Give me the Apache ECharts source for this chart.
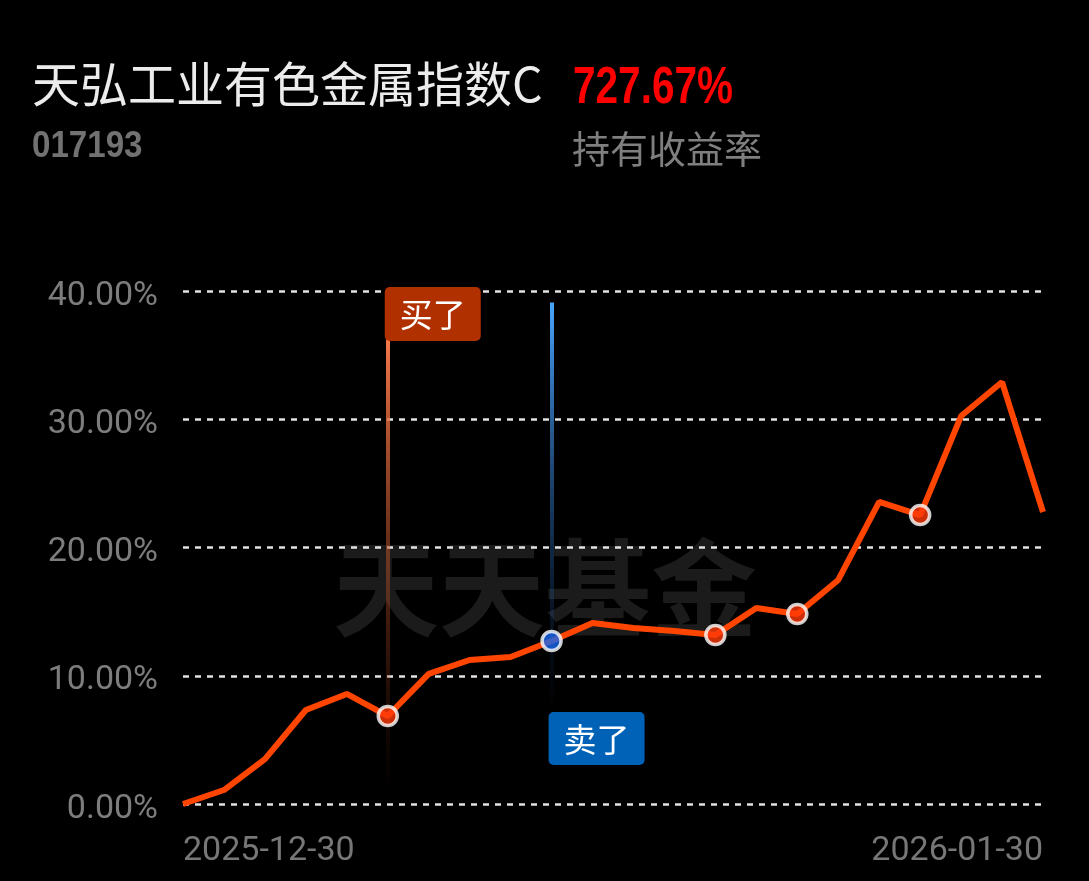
<!DOCTYPE html>
<html>
<head>
<meta charset="utf-8">
<script src="https://cdn.jsdelivr.net/npm/echarts@6/dist/echarts.min.js"></script>
<style>
  html, body { margin: 0; padding: 0; background: #000; }
  #chart { width: 1089px; height: 881px; background: #000; border-radius: 14px; overflow: hidden; }
</style>
</head>
<body>
<div id="chart"></div>
<script>
// ---- data ----
const fundName = '天弘工业有色金属指数C';
const fundCode = '017193';
const holdReturn = '727.67%';
const holdReturnLabel = '持有收益率';
const watermark = '天天基金';
const dates = ['2025-12-30','2025-12-31','2026-01-05','2026-01-06','2026-01-07','2026-01-08','2026-01-09',
  '2026-01-12','2026-01-13','2026-01-14','2026-01-15','2026-01-16','2026-01-19','2026-01-20','2026-01-21',
  '2026-01-22','2026-01-23','2026-01-26','2026-01-27','2026-01-28','2026-01-29','2026-01-30'];
const returns = [0, 1.09, 3.5, 7.33, 8.58, 6.86, 10.14, 11.23, 11.46, 12.71, 14.11, 13.72, 13.49, 13.18,
  15.28, 14.81, 17.47, 23.55, 22.53, 30.25, 32.9, 22.77];
const buyIndex = 5;
const sellIndex = 9;
const markerIndices = [13, 15, 18];
const buyText = '买了';
const sellText = '卖了';
const yTicks = [0, 10, 20, 30, 40];

// ---- chart ----
const chart = echarts.init(document.getElementById('chart'));
const last = dates.length - 1;

const dotRed = { color: '#ff3a0a', borderColor: '#fff', borderWidth: 3.5 };
const dotBlue = { color: '#1868f0', borderColor: '#fff', borderWidth: 3.5 };

const scatterData = [
  { value: [dates[buyIndex], returns[buyIndex]], itemStyle: dotRed },
  { value: [dates[sellIndex], returns[sellIndex]], itemStyle: dotBlue }
].concat(markerIndices.map(i => ({ value: [dates[i], returns[i]], itemStyle: dotRed })));

const grad = (c0, c1) => new echarts.graphic.LinearGradient(0, 0, 0, 1, [
  { offset: 0, color: c0 }, { offset: 1, color: c1 }
]);

chart.setOption({
  backgroundColor: '#000',
  animation: false,
  grid: { left: 183, right: 46, top: 291, bottom: 77 },
  graphic: [
    { type: 'text', x: 32, y: 60, style: { text: fundName, fill: '#ececec', font: '48px "Noto Sans CJK SC"', textVerticalAlign: 'top' } },
    { type: 'text', x: 573, y: 63, scaleX: 0.78, style: { text: holdReturn, fill: '#ff0000', font: 'bold 52px "Liberation Sans"', textVerticalAlign: 'top' } },
    { type: 'text', x: 32, y: 129, scaleX: 0.92, style: { text: fundCode, fill: '#727272', font: 'bold 36px "Liberation Sans"', textVerticalAlign: 'top' } },
    { type: 'text', x: 572, y: 130, style: { text: holdReturnLabel, fill: '#7f7f7f', font: '38px "Noto Sans CJK SC"', textVerticalAlign: 'top' } },
    { type: 'text', z: -10, x: 333, y: 535, style: { text: watermark, fill: '#1b1b1b', font: 'bold 106px "Noto Sans CJK SC"', textVerticalAlign: 'top' } }
  ],
  xAxis: {
    type: 'category',
    data: dates,
    boundaryGap: false,
    axisLine: { show: false },
    axisTick: { show: false },
    axisLabel: {
      interval: (i) => i === 0 || i === last,
      alignMinLabel: 'left',
      alignMaxLabel: 'right',
      color: '#777',
      fontSize: 34,
      fontFamily: 'Roboto',
      margin: 30
    },
    splitLine: { show: false }
  },
  yAxis: {
    type: 'value',
    min: yTicks[0],
    max: yTicks[yTicks.length - 1],
    interval: 10,
    axisLine: { show: false },
    axisTick: { show: false },
    axisLabel: {
      formatter: v => v.toFixed(2) + '%',
      color: '#7d7d7d',
      fontSize: 34,
      fontFamily: 'Roboto',
      margin: 25,
      verticalAlign: 'top',
      lineHeight: 10
    },
    splitLine: { lineStyle: { type: [6, 6], color: '#e2e2e2', width: 2.5 } }
  },
  series: [
    {
      type: 'line',
      data: returns,
      showSymbol: false,
      lineStyle: { color: '#ff4500', width: 6 },
      itemStyle: { color: '#ff4500' },
      markLine: {
        silent: true,
        symbol: 'none',
        label: { show: false },
        data: [
          [
            { coord: [dates[buyIndex], 37], lineStyle: { color: grad('#ff7d4d', 'rgba(120,40,10,0)'), width: 4, type: 'solid' } },
            { coord: [dates[buyIndex], 1] }
          ],
          [
            { coord: [dates[sellIndex], 39.1], lineStyle: { color: grad('#4ba6ff', 'rgba(20,60,120,0)'), width: 4, type: 'solid' } },
            { coord: [dates[sellIndex], 7.3] }
          ]
        ]
      },
      markPoint: {
        silent: true,
        symbolSize: 0,
        data: [
          {
            coord: [dates[buyIndex], 40], value: buyText,
            label: {
              show: true, position: 'inside', align: 'left', verticalAlign: 'top', offset: [-3, -4],
              formatter: buyText, color: '#fff', fontSize: 33, fontFamily: 'Noto Sans CJK SC',
              backgroundColor: '#b03000', borderRadius: 5, padding: [10, 15, 10, 15], lineHeight: 34
            }
          },
          {
            coord: [dates[sellIndex], 0], value: sellText,
            label: {
              show: true, position: 'inside', align: 'left', verticalAlign: 'top', offset: [-3, -92],
              formatter: sellText, color: '#fff', fontSize: 33, fontFamily: 'Noto Sans CJK SC',
              backgroundColor: '#0062b6', borderRadius: 5, padding: [10, 15, 9, 15], lineHeight: 34
            }
          }
        ]
      }
    },
    {
      type: 'scatter',
      data: scatterData,
      symbolSize: 19,
      z: 5
    }
  ]
});
</script>
</body>
</html>
